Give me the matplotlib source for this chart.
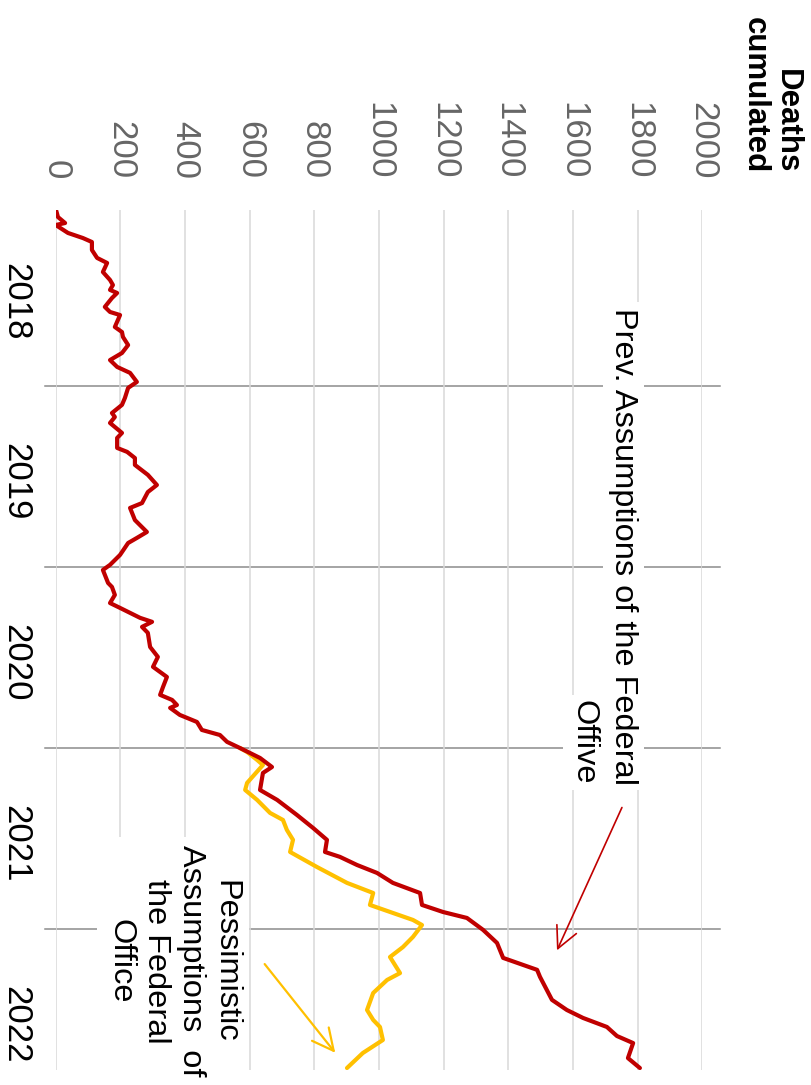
import matplotlib
matplotlib.use('Agg')
import matplotlib.pyplot as plt

plt.rcParams['font.family'] = ['Liberation Sans', 'DejaVu Sans']

# cumulated deaths, time as decimal year
red_t = [2018.025, 2018.064, 2018.097, 2018.108, 2018.152, 2018.180, 2018.202, 2018.246,
         2018.290, 2018.318, 2018.368, 2018.412, 2018.440, 2018.467, 2018.484, 2018.512,
         2018.561, 2018.589, 2018.606, 2018.672, 2018.700, 2018.727, 2018.772, 2018.816,
         2018.855, 2018.893, 2018.926, 2018.976, 2019.009, 2019.065, 2019.103, 2019.148,
         2019.170, 2019.203, 2019.258, 2019.286, 2019.341, 2019.363, 2019.397, 2019.435,
         2019.490, 2019.546, 2019.585, 2019.646, 2019.673, 2019.740, 2019.806, 2019.839,
         2019.867, 2019.933, 2019.988, 2020.016, 2020.088, 2020.110, 2020.154, 2020.199,
         2020.226, 2020.281, 2020.303, 2020.331, 2020.364, 2020.442, 2020.497, 2020.552,
         2020.608, 2020.663, 2020.707, 2020.735, 2020.763, 2020.779, 2020.818, 2020.857,
         2020.901, 2020.929, 2020.967, 2021.001, 2021.056, 2021.106, 2021.139, 2021.233,
         2021.288, 2021.371, 2021.443, 2021.509, 2021.576, 2021.603, 2021.648, 2021.692,
         2021.747, 2021.803, 2021.869, 2021.908, 2021.941, 2022.007, 2022.079, 2022.162,
         2022.228, 2022.267, 2022.394, 2022.450, 2022.494, 2022.544, 2022.594, 2022.633,
         2022.716, 2022.771]
red_deaths = [1, 7, 29, 0, 38, 84, 112, 112,
              128, 159, 146, 168, 177, 168, 190, 174,
              152, 168, 199, 183, 205, 208, 224, 205,
              168, 190, 230, 251, 224, 214, 205, 174,
              183, 168, 205, 190, 190, 221, 245, 245,
              285, 313, 285, 267, 230, 245, 282, 251,
              224, 199, 168, 146, 162, 174, 183, 168,
              199, 261, 298, 267, 285, 292, 316, 301,
              344, 332, 323, 360, 375, 354, 384, 437,
              452, 508, 530, 570, 632, 669, 641, 632,
              685, 746, 796, 839, 833, 879, 932, 994,
              1043, 1127, 1133, 1198, 1272, 1322, 1365, 1384,
              1489, 1498, 1535, 1581, 1631, 1705, 1736, 1786,
              1770, 1807]

yel_t = [2021.001, 2021.023, 2021.067, 2021.095, 2021.194, 2021.233, 2021.288, 2021.360,
         2021.399, 2021.454, 2021.509, 2021.576, 2021.659, 2021.747, 2021.803, 2021.869,
         2021.952, 2021.980, 2022.046, 2022.102, 2022.157, 2022.246, 2022.284, 2022.356,
         2022.450, 2022.505, 2022.544, 2022.616, 2022.688, 2022.771]
yel_deaths = [570, 592, 623, 641, 592, 586, 623, 663,
              703, 715, 734, 725, 808, 901, 982, 972,
              1105, 1133, 1105, 1074, 1034, 1065, 1025, 982,
              963, 982, 1003, 1012, 950, 901]

value_ticks = list(range(0, 2001, 200))
years = [2018, 2019, 2020, 2021, 2022]
year_breaks = [2019, 2020, 2021, 2022]

RED = '#c00000'
YEL = '#ffc000'

fig = plt.figure(figsize=(8.12, 10.85), dpi=100)
ax = fig.add_axes([55.7 / 812, 15 / 1085, 646.6 / 812, 860 / 1085])

ax.set_xlim(0, 2000)
ax.set_ylim(2022.782, 2018.025)

for s in ax.spines.values():
    s.set_visible(False)

ax.set_xticks(value_ticks)
ax.set_xticklabels([str(v) for v in value_ticks])
ax.xaxis.tick_top()
ax.tick_params(axis='x', length=0, pad=22, labelsize=25, labelcolor='#666666',
               labelrotation=-90)
ax.grid(axis='x', color='#d9d9d9', lw=1.1, zorder=0)

ax.set_yticks([y + 0.53 for y in years])
ax.set_yticklabels([str(y) for y in years])
ax.tick_params(axis='y', length=0, pad=17, labelsize=25, labelcolor='black',
               labelrotation=-90)
for lab in ax.get_yticklabels():
    lab.set_va('center')

for yb in year_breaks:
    ax.axhline(yb, xmin=-0.0165, xmax=1.027, color='#8c8c8c', lw=1.1,
               clip_on=False, zorder=1)

ax.plot(yel_deaths, yel_t, color=YEL, lw=3.0, solid_joinstyle='round',
        solid_capstyle='round', zorder=3)
ax.plot(red_deaths, red_t, color=RED, lw=3.0, solid_joinstyle='round',
        solid_capstyle='round', zorder=4)

box = dict(facecolor='white', edgecolor='none', pad=4)

# axis title
ax.text(2212, 2017.82, 'Deaths\ncumulated', rotation=-90, ha='center', va='bottom',
        multialignment='right', fontsize=22.5, fontweight='bold', color='black',
        linespacing=1.1)

# previous assumptions label
ax.text(1755, 2021.205, 'Prev. Assumptions of the Federal', rotation=-90,
        ha='center', va='bottom', fontsize=23.4, color='black', bbox=box, zorder=5)
ax.text(1634, 2021.205, 'Offive', rotation=-90,
        ha='center', va='bottom', fontsize=23.4, color='black', bbox=box, zorder=5)
ax.annotate('', xy=(1547, 2022.134), xytext=(1755, 2021.316),
            arrowprops=dict(arrowstyle='->,head_length=0.7,head_width=0.35',
                            color=RED, lw=1.2, mutation_scale=22), zorder=6)

# pessimistic label
ax.text(363, 2022.179, 'Pessimistic\nAssumptions  of\nthe Federal\nOffice', rotation=-90,
        ha='center', va='center', multialignment='center', fontsize=23.4,
        color='black', linespacing=1.22,
        bbox=dict(facecolor='white', edgecolor='none', pad=6), zorder=5)
ax.annotate('', xy=(870, 2022.699), xytext=(641, 2022.184),
            arrowprops=dict(arrowstyle='->,head_length=0.7,head_width=0.35',
                            color=YEL, lw=1.6, mutation_scale=22), zorder=6)

plt.savefig('out.png', dpi=100)
